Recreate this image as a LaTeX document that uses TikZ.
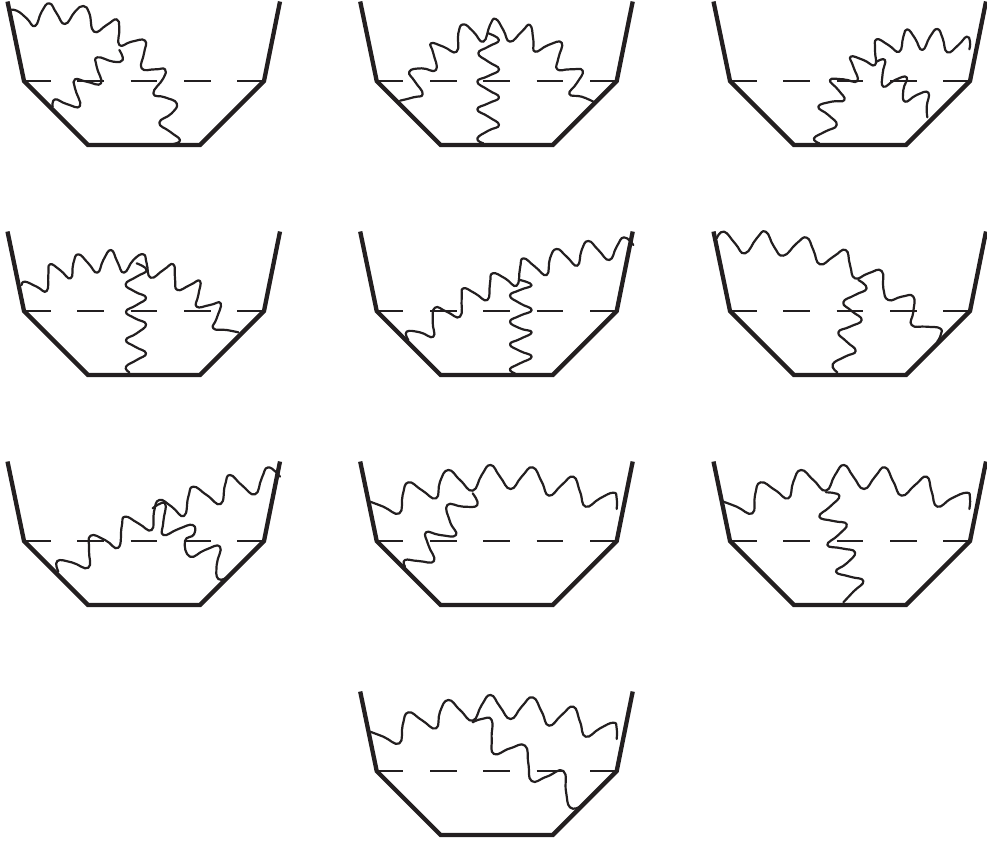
\documentclass[tikz,border=0pt]{standalone}
\definecolor{ink}{HTML}{231F20}
\tikzset{
  bowlline/.style={draw=ink,line width=4.3pt,line join=miter},
  levelline/.style={draw=ink,line width=2pt,dash pattern=on 26.67pt off 26.67pt},
  wavy/.style={draw=ink,line width=2.2pt,line join=round,line cap=round}
}
% zoom-coordinate panel: #1,#2 window origin in px
\newcommand{\wv}[3]{\begin{scope}[shift={(#1,#2)},x=0.33333pt,y=-0.33333pt]
  \draw[wavy] plot[smooth,tension=0.85] coordinates {#3};
\end{scope}}
\newcommand{\bowlat}[2]{\begin{scope}[shift={(#1,#2)}]
  \draw[levelline] (24,81) -- (264,81);
  \draw[bowlline] (7.5,1.5) -- (24,81) -- (88,145) -- (200,145) -- (264,81) -- (280,1.5);
\end{scope}}
\begin{document}
\begin{tikzpicture}[x=1pt,y=-1pt]
\useasboundingbox (0,0) rectangle (987,844);
\bowlat{0}{0}\bowlat{352.7}{0}\bowlat{706}{0}
\bowlat{0}{230}\bowlat{352.7}{230}\bowlat{706}{230}
\bowlat{0}{460}\bowlat{352.7}{460}\bowlat{706}{460}
\bowlat{352.7}{690}
% panel 1
\wv{0}{0}{(25,30)(50,32)(80,55)(105,78)(125,35)(148,10)(170,40)(195,72)(225,35)(250,18)(268,40)(282,95)(320,75)(350,58)(358,85)(358,135)(395,125)(435,122)(432,160)(425,205)(465,208)(495,208)(490,235)(460,280)(495,292)(530,310)(515,340)(478,368)(510,395)(540,420)(520,432)}
\wv{0}{0}{(358,150)(368,180)(340,185)(292,172)(290,200)(303,250)(260,245)(225,238)(225,265)(240,318)(200,312)(165,298)(158,320)}
% panel 2
\wv{350}{0}{(150,302)(190,292)(218,282)(195,245)(178,215)(215,205)(258,210)(250,160)(243,130)(280,140)(320,155)(325,100)(340,73)(370,95)(400,125)(420,75)(437,57)(460,90)(480,125)(515,95)(540,75)(550,120)(555,155)(595,135)(635,128)(625,175)(622,208)(660,208)(698,212)(680,250)(658,282)(695,290)(730,305)}
\wv{350}{0}{(415,100)(447,120)(415,140)(385,160)(415,185)(447,208)(415,228)(382,245)(415,270)(447,292)(415,310)(382,328)(415,350)(447,375)(415,392)(382,415)(400,430)}
% panel 3
\wv{700}{0}{(358,430)(342,415)(375,395)(410,375)(385,345)(355,320)(395,305)(433,300)(415,270)(390,240)(430,238)(472,243)(460,200)(452,170)(490,180)(525,195)(525,150)(530,118)(565,135)(598,155)(610,110)(622,88)(645,115)(667,150)(690,110)(712,87)(728,115)(742,157)(775,135)(800,110)(810,125)(808,148)}
\wv{700}{0}{(530,185)(555,180)(548,220)(550,260)(585,240)(620,232)(610,270)(615,305)(650,285)(685,278)(680,320)(682,352)}
% panel 4
\wv{0}{225}{(65,180)(75,170)(110,185)(140,198)(145,150)(150,118)(180,135)(212,160)(220,115)(235,88)(265,115)(292,143)(310,105)(333,75)(352,110)(372,143)(400,105)(430,88)(440,115)(452,158)(490,135)(520,118)(525,160)(532,195)(570,180)(600,168)(595,210)(590,245)(630,240)(662,235)(650,280)(640,310)(680,315)(715,322)}
\wv{0}{225}{(410,115)(440,135)(410,155)(377,178)(405,200)(438,218)(410,240)(378,260)(405,280)(438,298)(410,325)(378,345)(405,365)(438,385)(410,405)(378,425)(388,442)}
% panel 5
\wv{350}{225}{(175,345)(170,320)(210,322)(250,335)(248,290)(255,248)(290,260)(330,275)(335,220)(340,190)(375,205)(412,225)(420,175)(428,145)(465,160)(500,182)(510,130)(520,100)(555,125)(590,150)(600,100)(620,72)(650,95)(682,122)(695,75)(715,48)(745,75)(778,105)(800,65)(822,37)(850,60)}
\wv{350}{225}{(510,165)(545,180)(510,195)(480,212)(510,235)(545,255)(510,272)(480,290)(510,310)(545,322)(510,342)(480,358)(510,378)(545,395)(510,415)(480,432)(495,445)}
% panel 6
\wv{700}{225}{(50,40)(72,20)(105,55)(135,85)(170,40)(197,20)(222,65)(250,92)(290,55)(320,38)(340,75)(360,118)(400,95)(437,75)(450,120)(465,160)(505,145)(545,138)(550,190)(565,225)(605,215)(640,215)(640,260)(635,300)(680,305)(720,310)(722,330)(712,350)}
\wv{700}{225}{(475,165)(500,190)(465,210)(430,232)(455,258)(485,285)(450,305)(415,322)(440,350)(467,378)(435,395)(398,418)(412,442)}
% panel 7
\wv{0}{455}{(175,350)(172,318)(215,322)(265,338)(267,285)(272,242)(315,255)(355,278)(365,215)(375,185)(415,205)(455,225)(462,170)(478,135)(515,155)(552,183)(565,125)(580,95)(620,120)(662,147)(675,90)(690,60)(725,90)(765,118)(785,70)(805,37)(840,65)}
\wv{0}{455}{(458,160)(495,145)(490,200)(490,240)(535,222)(578,210)(582,238)(555,258)(570,305)(615,285)(660,275)(650,330)(655,372)(685,365)}
% panel 8
\wv{350}{455}{(60,140)(100,155)(148,175)(158,120)(175,82)(215,105)(258,130)(270,80)(295,45)(330,75)(368,107)(395,60)(422,30)(450,65)(482,102)(515,65)(548,37)(575,80)(597,122)(635,90)(670,65)(690,110)(707,155)(750,130)(790,113)(800,130)(800,162)}
\wv{350}{455}{(368,115)(382,150)(340,155)(292,150)(300,200)(318,240)(270,240)(228,232)(235,270)(252,318)(205,318)(165,315)(165,335)}
% panel 9
\wv{700}{455}{(70,140)(110,155)(157,175)(165,120)(182,82)(225,105)(265,130)(280,80)(303,45)(340,75)(378,107)(405,60)(432,30)(460,65)(492,102)(525,65)(555,37)(580,80)(605,122)(645,90)(680,65)(695,110)(712,155)(755,130)(800,113)(810,130)(808,162)}
\wv{700}{455}{(378,112)(418,122)(390,155)(358,185)(400,198)(440,208)(415,240)(382,270)(425,280)(465,292)(440,325)(408,350)(450,365)(490,378)(460,410)(430,442)}
% panel 10
\wv{350}{685}{(60,140)(100,155)(148,175)(158,120)(175,82)(215,105)(258,130)(270,80)(295,45)(330,75)(368,107)(395,60)(422,30)(450,65)(482,102)(515,65)(548,37)(575,80)(597,122)(635,90)(670,65)(690,110)(707,155)(750,130)(790,113)(800,130)(800,162)}
\wv{350}{685}{(368,112)(395,102)(425,105)(425,160)(432,207)(480,190)(525,182)(535,235)(545,288)(590,275)(640,258)(648,320)(660,367)(690,365)}
\end{tikzpicture}
\end{document}
